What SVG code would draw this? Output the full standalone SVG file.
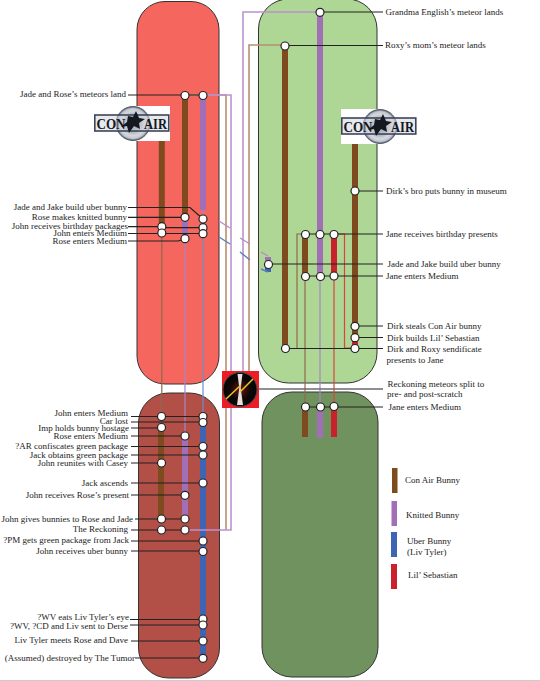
<svg xmlns="http://www.w3.org/2000/svg" width="540" height="681" viewBox="0 0 540 681">
<style>
text{font-family:"Liberation Serif","Times New Roman",serif;font-size:9px;fill:#222}
.e{text-anchor:end}
.n{fill:#fff;stroke:#222;stroke-width:1.2}
.pill{stroke:#333;stroke-width:1}
.lead{fill:none;stroke:#222;stroke-width:1.2}
.line{fill:none}
.bt{stroke:#7F4A1E;stroke-width:6}
.pt{stroke:#A06FB5;stroke-width:6}
.ut{stroke:#3E64B4;stroke-width:6}
.rt{stroke:#C9222C;stroke-width:6}
.bn{stroke:#8F6A4C;stroke-width:1.2}
.pn{stroke:#A586C6;stroke-width:1.2}
.un{stroke:#6F8CC9;stroke-width:1.2}
.rn{stroke:#D8453C;stroke-width:1.2}
.bx{stroke:#B8906F;stroke-width:1.6;fill:none}
.px{stroke:#BB92D0;stroke-width:1.6;fill:none}
.dp{stroke:#B98AC9;stroke-width:1.4}
.du{stroke:#5B7EC8;stroke-width:1.4}
.logo{font-family:"Liberation Serif",serif;font-size:15px;font-weight:bold;fill:#15181f}
</style>
<defs>
<radialGradient id="clock"><stop offset="0" stop-color="#6a1614"/><stop offset="0.6" stop-color="#100707"/><stop offset="1" stop-color="#050505"/></radialGradient>
<radialGradient id="emblem"><stop offset="0" stop-color="#4f5f7c"/><stop offset="0.72" stop-color="#d6d8dd"/><stop offset="0.88" stop-color="#c2c6ce"/><stop offset="1" stop-color="#4d5565"/></radialGradient>
<g id="conair">
<rect x="0" y="0" width="76" height="35" fill="#fff"/>
<circle cx="39" cy="17.500" r="17" fill="url(#emblem)" stroke="#556072" stroke-width="1"/>
<rect x="0.800" y="9" width="74" height="16" fill="#d4d7de" fill-opacity="0.55" stroke="#3b465c" stroke-width="1.6"/>
<path d="M42 5l3 7 6 1-6 4 1 6-6-3-5 7-2-7-6 1 6-5 1-6 5 1z" fill="#15181f"/>
<text class="logo" x="2.500" y="23" textLength="29" lengthAdjust="spacingAndGlyphs">CON</text>
<text class="logo" x="50" y="23" textLength="23" lengthAdjust="spacingAndGlyphs">AIR</text>
</g>
</defs>
<rect width="540" height="681" fill="#fff"/>
<rect x="0" y="680" width="540" height="1" fill="#ccc"/>

<g id="regions">
<rect id="region-red" class="pill" x="137" y="1.500" width="82" height="382.500" rx="28" fill="#F4665E"/>
<rect id="region-darkred" class="pill" x="138.500" y="393" width="81" height="285" rx="30" fill="#B24F47"/>
<rect id="region-green" class="pill" x="258.500" y="-1" width="118.500" height="384" rx="30" fill="#AED694"/>
<rect id="region-darkgreen" class="pill" x="262" y="392" width="116" height="285" rx="30" fill="#70925F"/>
</g>

<g id="connectors">
<g class="line">
<path class="bt" d="M161.800 141V227M185 96V218M285 45V348M305 234V276M355 143V348M305 405V437M161 427V518"/>
<path class="pt" d="M203 96V210M185 217V239M320 12V276M320 407V438M185 436V518M268 257V264"/>
<path class="ut" d="M203 418V658M268 264V272"/>
<path class="rt" d="M334 234V276M334 407V437M355 337V348"/>
<path class="bn" d="M161.800 233V393M161 393V427M305 276V405"/>
<path class="pn" d="M185 239V393M185 393V436M203 210V218M320 276V407"/>
<path class="un" d="M203 233V418"/>
<path class="rn" d="M334 276V407"/>
<path class="rn" d="M334 234H344.500V348H355" stroke-width="1.300"/>
<path class="bn" d="M305 234H297V348" stroke-width="1.300"/>
</g>
<path class="bx" d="M185 95H226V530"/>
<path class="px" d="M203 95H231V530H185"/>
<path class="px" d="M320 12H243V372"/>
<path class="bx" d="M285 45H249V372"/>
<path class="dp" d="M219 221L230 228M240 238L250 244M261 252L268 256"/>
<path class="du" d="M219 237L230 244M240 252L250 260M261 269L268 272"/>
<path stroke="#6a6a6a" stroke-width="1.400" d="M259 389H383"/>
<path class="lead" d="M128 95H203M128 207.500H190L203 219M128 217.300H185M128 226.700H162M162 227.700H203M128 233.500H203M128 241H178L185 239"/>
<path class="lead" d="M131 416.500H203M131 422H203M131 428H161M131 436H185M131 446.500H203M131 455H203M131 463H161M131 483H203M131 495H185M135 519H185M131 530H185M131 541H203M131 551H203M130 619.500H203M130 625H203M131 641H203M135 658H203"/>
<path class="lead" d="M320 12H383M285 45.500H383M355 191H383M305 234H383M268 264H383M305 276H383M355 326H383M355 337.500H383M285 348.500H383M305 407H383"/>
</g>

<g id="logo-left"><use href="#conair" x="94" y="106"/></g>
<g id="logo-right"><use href="#conair" x="341" y="109"/></g>

<g id="reckoning-icon">
<rect x="222" y="371" width="37" height="37" fill="#EE1C25"/>
<circle cx="240" cy="389.500" r="17" fill="url(#clock)" stroke="#4a4a4a" stroke-width="1"/>
<path d="M237.500 374H242.500L240.700 388L243 405H237L239.300 388Z" fill="#e8e0dc"/>
<path d="M226 399L241 385M240 392L253 379" stroke="#E8C824" stroke-width="1.500" fill="none"/>
</g>

<g id="ev-jade-rose-meteors"><text class="e" x="126" y="97">Jade and Rose’s meteors land</text><circle class="n" cx="185" cy="95.500" r="4"/><circle class="n" cx="203" cy="95.500" r="4"/></g>
<g id="ev-uber-build-l"><text class="e" x="127" y="210">Jade and Jake build uber bunny</text><circle class="n" cx="203" cy="219" r="4"/></g>
<g id="ev-knitted"><text class="e" x="127" y="220">Rose makes knitted bunny</text><circle class="n" cx="185" cy="217.300" r="4"/></g>
<g id="ev-bday-packages"><text class="e" x="128" y="229">John receives birthday packages</text><circle class="n" cx="161.800" cy="226.700" r="4"/><circle class="n" cx="203" cy="227.700" r="4"/></g>
<g id="ev-john-medium-1"><text class="e" x="127" y="236">John enters Medium</text><circle class="n" cx="161.800" cy="233" r="4"/><circle class="n" cx="203" cy="233.700" r="4"/></g>
<g id="ev-rose-medium-1"><text class="e" x="127" y="244">Rose enters Medium</text><circle class="n" cx="185" cy="238.700" r="4"/></g>

<g id="ev-john-medium-2"><text class="e" x="128" y="416">John enters Medium</text><circle class="n" cx="161.500" cy="416.500" r="4"/><circle class="n" cx="203" cy="416.500" r="4"/></g>
<g id="ev-car-lost"><text class="e" x="128" y="424">Car lost</text><circle class="n" cx="203" cy="422.500" r="4"/></g>
<g id="ev-imp"><text class="e" x="129" y="431">Imp holds bunny hostage</text><circle class="n" cx="161.500" cy="427.500" r="4"/></g>
<g id="ev-rose-medium-2"><text class="e" x="128" y="439">Rose enters Medium</text><circle class="n" cx="185" cy="436" r="4"/></g>
<g id="ev-ar"><text class="e" x="128" y="449">?AR confiscates green package</text><circle class="n" cx="203" cy="446.500" r="4"/></g>
<g id="ev-jack-obtains"><text class="e" x="128" y="458">Jack obtains green package</text><circle class="n" cx="203" cy="455" r="4"/></g>
<g id="ev-casey"><text class="e" x="128" y="466">John reunites with Casey</text><circle class="n" cx="161.500" cy="463" r="4"/></g>
<g id="ev-jack-ascends"><text class="e" x="128" y="486">Jack ascends</text><circle class="n" cx="203" cy="483" r="4"/></g>
<g id="ev-rose-present"><text class="e" x="129" y="498">John receives Rose’s present</text><circle class="n" cx="185" cy="495.300" r="4"/></g>
<g id="ev-gives-bunnies"><text class="e" x="133" y="522">John gives bunnies to Rose and Jade</text><circle class="n" cx="161.500" cy="519" r="4"/><circle class="n" cx="185" cy="519" r="4"/></g>
<g id="ev-reckoning"><text class="e" x="128" y="532">The Reckoning</text><circle class="n" cx="161.500" cy="530" r="4"/><circle class="n" cx="185" cy="530" r="4"/></g>
<g id="ev-pm"><text class="e" x="129" y="543">?PM gets green package from Jack</text><circle class="n" cx="203" cy="541" r="4"/></g>
<g id="ev-uber-received"><text class="e" x="128" y="554">John receives uber bunny</text><circle class="n" cx="203" cy="551.500" r="4"/></g>
<g id="ev-wv-eats"><text class="e" x="129" y="620">?WV eats Liv Tyler’s eye</text><circle class="n" cx="203" cy="619" r="4"/></g>
<g id="ev-wv-derse"><text class="e" x="128" y="629">?WV, ?CD and Liv sent to Derse</text><circle class="n" cx="203" cy="625" r="4"/></g>
<g id="ev-liv-meets"><text class="e" x="128" y="643">Liv Tyler meets Rose and Dave</text><circle class="n" cx="203" cy="641" r="4"/></g>
<g id="ev-tumor"><text class="e" x="135" y="661">(Assumed) destroyed by The Tumor</text><circle class="n" cx="203" cy="658.300" r="4"/></g>

<g id="ev-grandma"><text x="385.500" y="15">Grandma English’s meteor lands</text><circle class="n" cx="320" cy="12.300" r="4"/></g>
<g id="ev-roxy-mom"><text x="385" y="48">Roxy’s mom’s meteor lands</text><circle class="n" cx="285" cy="46" r="4"/></g>
<g id="ev-museum"><text x="386" y="194">Dirk’s bro puts bunny in museum</text><circle class="n" cx="355" cy="191" r="4"/></g>
<g id="ev-jane-presents"><text x="386" y="237">Jane receives birthday presents</text><circle class="n" cx="305.500" cy="234.500" r="4"/><circle class="n" cx="320" cy="234.500" r="4"/><circle class="n" cx="334" cy="234.500" r="4"/></g>
<g id="ev-uber-build-r"><text x="387.500" y="267">Jade and Jake build uber bunny</text><circle class="n" cx="268.500" cy="264.500" r="4"/></g>
<g id="ev-jane-medium-1"><text x="386" y="279">Jane enters Medium</text><circle class="n" cx="305.500" cy="276.500" r="4"/><circle class="n" cx="320.500" cy="276.500" r="4"/><circle class="n" cx="334" cy="276" r="4"/></g>
<g id="ev-dirk-steals"><text x="387" y="329">Dirk steals Con Air bunny</text><circle class="n" cx="355" cy="326.300" r="4"/></g>
<g id="ev-dirk-builds"><text x="387" y="341">Dirk builds Lil’ Sebastian</text><circle class="n" cx="355" cy="337.700" r="4"/></g>
<g id="ev-sendificate"><text x="387" y="352">Dirk and Roxy sendificate</text><text x="386.500" y="363">presents to Jane</text><circle class="n" cx="285.500" cy="348.500" r="4"/><circle class="n" cx="355" cy="348.500" r="4"/></g>
<g id="ev-reckoning-split"><text x="387.500" y="386.500">Reckoning meteors split to</text><text x="387" y="397">pre- and post-scratch</text></g>
<g id="ev-jane-medium-2"><text x="388.500" y="410">Jane enters Medium</text><circle class="n" cx="305.500" cy="407" r="4"/><circle class="n" cx="320.500" cy="407" r="4"/><circle class="n" cx="334" cy="406.500" r="4"/></g>

<g id="legend">
<rect x="392" y="468" width="5.500" height="25" fill="#7F4A1E"/><text x="405" y="483">Con Air Bunny</text>
<rect x="391.500" y="501" width="5.500" height="25" fill="#A06FB5"/><text x="406" y="518">Knitted Bunny</text>
<rect x="391" y="532" width="6" height="25" fill="#3E64B4"/><text x="407" y="544">Uber Bunny</text><text x="407" y="555">(Liv Tyler)</text>
<rect x="391" y="564" width="6" height="25" fill="#C9222C"/><text x="408" y="578">Lil’ Sebastian</text>
</g>
</svg>
